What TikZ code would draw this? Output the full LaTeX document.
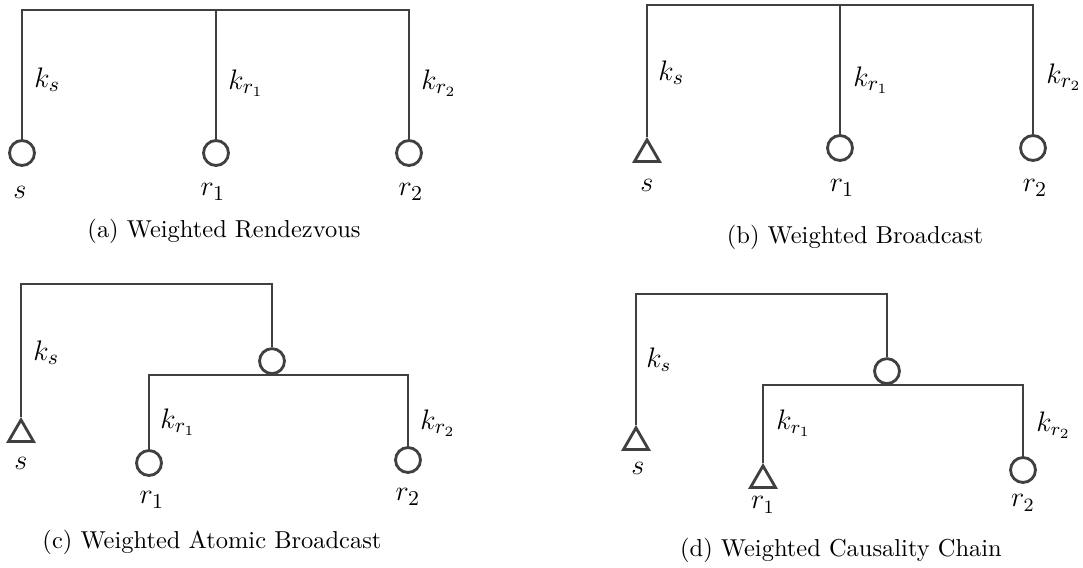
\documentclass[tikz,border=0pt]{standalone}
\usetikzlibrary{shapes.geometric}
\definecolor{lc}{RGB}{64,64,64}
\begin{document}
\begin{tikzpicture}[x=0.425pt,y=-0.425pt,
  wire/.style={line width=1.2pt, draw=lc},
  circ/.style={circle, draw=lc, line width=1.2pt, minimum size=10.6pt, inner sep=0pt},
  tri/.style={regular polygon, regular polygon sides=3, draw=lc, line width=1.2pt, minimum size=12.3pt, inner sep=0pt},
  lab/.style={anchor=west, inner sep=0pt, font=\fontsize{13}{15}\selectfont},
  vlab/.style={inner sep=0pt, font=\fontsize{13}{15}\selectfont},
  captext/.style={inner sep=0pt, font=\fontsize{10.4}{12}\selectfont}]
\useasboundingbox (0,0) rectangle (1083,568);
% (a)
\coordinate (aT) at (216,10);
\node[circ] (aS) at (22,153) {};
\node[circ] (aR1) at (216,153) {};
\node[circ] (aR2) at (409,153) {};
\draw[wire] (aS.north) -- (aS |- aT) -- (aR2 |- aT) -- (aR2.north);
\draw[wire] (aR1.north) -- (aR1 |- aT);
\node[lab] (aks) at (34,80) {$k_s$};
\node[lab] (akr1) at (228,83) {$k_{r_1}$};
\node[lab] (akr2) at (421,83) {$k_{r_2}$};
\node[vlab] (als) at (20,192) {$s$};
\node[vlab] (alr1) at (213,192) {$r_1$};
\node[vlab] (alr2) at (411,192) {$r_2$};
\node[captext] (acap) at (224,231) {(a) Weighted Rendezvous};
% (b)
\coordinate (bT) at (840,5);
\node[tri, anchor=north] (bS) at (647,137) {};
\node[circ] (bR1) at (840,148) {};
\node[circ] (bR2) at (1033,148) {};
\draw[wire] (bS.north) -- (bS.north |- bT) -- (bR2 |- bT) -- (bR2.north);
\draw[wire] (bR1.north) -- (bR1 |- bT);
\node[lab] (bks) at (658,73) {$k_s$};
\node[lab] (bkr1) at (853,80) {$k_{r_1}$};
\node[lab] (bkr2) at (1046,77) {$k_{r_2}$};
\node[vlab] (bls) at (647,185) {$s$};
\node[vlab] (blr1) at (842,188) {$r_1$};
\node[vlab] (blr2) at (1035,188) {$r_2$};
\node[captext] (bcap) at (855,237) {(b) Weighted Broadcast};
% (c)
\coordinate (cT) at (150,284);
\node[tri, anchor=north] (cS) at (21,417) {};
\node[circ, anchor=south] (cM) at (272,375) {};
\node[circ] (cR1) at (149,463) {};
\node[circ] (cR2) at (408,460) {};
\draw[wire] (cS.north) -- (cS.north |- cT) -- (cM.north |- cT) -- (cM.north);
\draw[wire] (cR1.north) -- (cR1 |- cM.south) -- (cR2 |- cM.south) -- (cR2.north);
\node[lab] (cks) at (33,353) {$k_s$};
\node[lab] (ckr1) at (160,422) {$k_{r_1}$};
\node[lab] (ckr2) at (420,423) {$k_{r_2}$};
\node[vlab] (cls) at (21,463) {$s$};
\node[vlab] (clr1) at (152,500) {$r_1$};
\node[vlab] (clr2) at (408,497) {$r_2$};
\node[captext] (ccap) at (212,542) {(c) Weighted Atomic Broadcast};
% (d)
\coordinate (dT) at (760,294);
\node[tri, anchor=north] (dS) at (636,425) {};
\node[circ, anchor=south] (dM) at (887,385) {};
\node[tri, anchor=north] (dR1) at (763,463) {};
\node[circ] (dR2) at (1023,470) {};
\draw[wire] (dS.north) -- (dS.north |- dT) -- (dM.north |- dT) -- (dM.north);
\draw[wire] (dR1.north) -- (dR1.north |- dM.south) -- (dR2 |- dM.south) -- (dR2.north);
\node[lab, font=\fontsize{12}{14}\selectfont] (dks) at (646,360) {$k_s$};
\node[lab, font=\fontsize{12}{14}\selectfont] (dkr1) at (776,423) {$k_{r_1}$};
\node[lab, font=\fontsize{12}{14}\selectfont] (dkr2) at (1036,425) {$k_{r_2}$};
\node[vlab, font=\fontsize{12}{14}\selectfont] (dls) at (638,468) {$s$};
\node[vlab, font=\fontsize{12}{14}\selectfont] (dlr1) at (763,505) {$r_1$};
\node[vlab, font=\fontsize{12}{14}\selectfont] (dlr2) at (1023,503) {$r_2$};
\node[captext] (dcap) at (841,550) {(d) Weighted Causality Chain};
\end{tikzpicture}
\end{document}
